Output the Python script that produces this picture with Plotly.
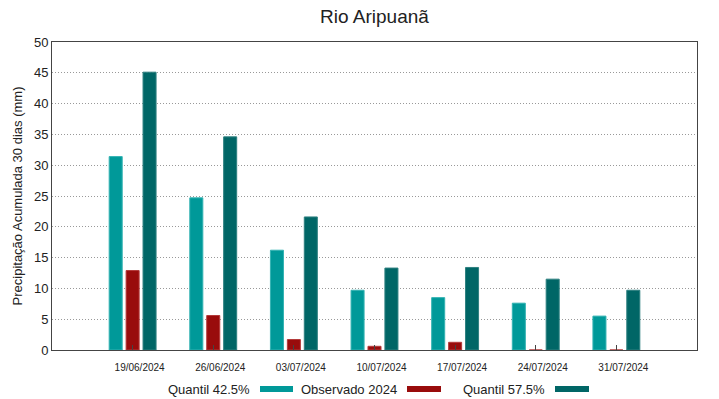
import plotly.graph_objects as go

dates = ["19/06/2024", "26/06/2024", "03/07/2024", "10/07/2024",
         "17/07/2024", "24/07/2024", "31/07/2024"]
quantil_425 = [31.4, 24.7, 16.2, 9.7, 8.5, 7.6, 5.5]
observado_2024 = [12.9, 5.6, 1.7, 0.6, 1.25, 0.0, 0.0]
quantil_575 = [45.1, 34.6, 21.6, 13.3, 13.4, 11.5, 9.7]

series = [
    ("Quantil 42.5%", quantil_425, "#009999", "#33b3b3"),
    ("Observado 2024", observado_2024, "#990c0c", "#b33a3a"),
    ("Quantil 57.5%", quantil_575, "#006666", "#2e8080"),
]

font = "Liberation Sans, Arial, sans-serif"
fig = go.Figure()
for name, vals, col, lcol in series:
    fig.add_trace(go.Bar(x=dates, y=vals, name=name, marker_color=col,
                         marker_line=dict(color=lcol, width=1), showlegend=False))

W, H = 719, 399
L, R, T, B = 52, 22, 42, 49
pw, ph = W - L - R, H - T - B

def px(x):
    return (x - L) / pw

def py(y):
    return (H - B - y) / ph

# legend drawn gnuplot-style: text then swatch
legend_items = [
    ("Quantil 42.5%", 252, 260, 293, "#009999"),
    ("Observado 2024", 399, 407, 441, "#990c0c"),
    ("Quantil 57.5%", 547, 555, 589, "#006666"),
]
for text, tx, sx0, sx1, col in legend_items:
    fig.add_annotation(x=px(tx), y=py(389), xref="paper", yref="paper", text=text,
                       showarrow=False, xanchor="right", yanchor="middle",
                       font=dict(size=13, color="#222", family=font))
    fig.add_shape(type="rect", xref="paper", yref="paper", x0=px(sx0), x1=px(sx1),
                  y0=py(392), y1=py(386), fillcolor=col, line_width=0)

fig.update_layout(
    width=W, height=H,
    margin=dict(l=L, r=R, t=T, b=B, autoexpand=False),
    paper_bgcolor="white", plot_bgcolor="white",
    barmode="group", bargap=0.37, bargroupgap=0.23,
    font=dict(family=font, color="#222"),
    title=dict(text="Rio Aripuanã", xref="paper", x=0.5, xanchor="center",
               y=1 - 16 / H, yanchor="middle",
               font=dict(size=19, color="#222", family=font)),
)
fig.update_xaxes(range=[-1, 7], showline=True, linecolor="#444", linewidth=1, mirror=True,
                 ticks="inside", ticklen=5, tickcolor="#444", showgrid=False,
                 tickfont=dict(size=10, family=font, color="#222"), ticklabelshift=7,
                 ticklabelstandoff=8, tickangle=0, automargin=False)
fig.update_yaxes(range=[0, 50], dtick=5, showline=True, linecolor="#444", linewidth=1,
                 mirror=True, ticks="", showgrid=True, gridcolor="#999", griddash="1px,2px",
                 gridwidth=1, zeroline=False, automargin=False,
                 tickfont=dict(size=13, family=font, color="#222"),
                 title=dict(text="Precipitação Acumulada 30 dias (mm)",
                            font=dict(size=13, family=font, color="#222"), standoff=8))

fig.write_html("out.html", config={"displayModeBar": False},
               post_script="document.body.style.margin='0';")
